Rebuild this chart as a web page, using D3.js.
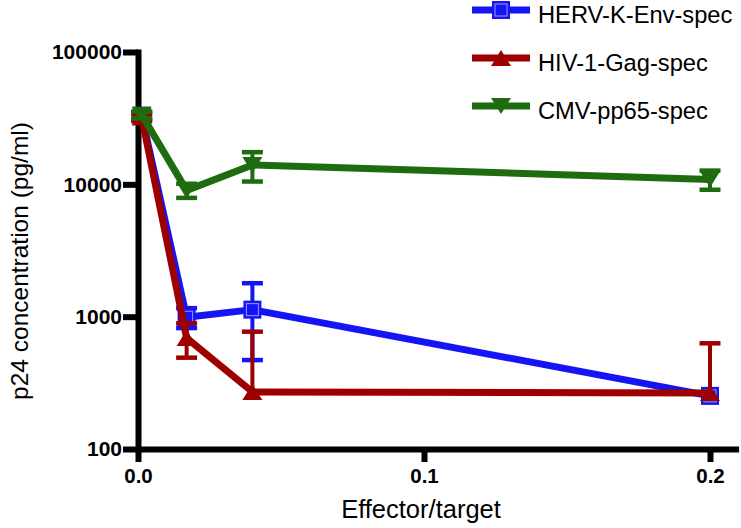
<!DOCTYPE html>
<html>
<head>
<meta charset="utf-8">
<script src="https://cdn.jsdelivr.net/npm/d3@7"></script>
<style>
  html, body { margin: 0; padding: 0; background: #fff; }
  svg { display: block; }
  text { font-family: "Liberation Sans", Arial, Helvetica, sans-serif; }
</style>
</head>
<body>
<svg id="chart" width="741" height="528"></svg>
<script>
// ---- data ----
const xValues = [0.0013, 0.017, 0.04, 0.2];
const seriesNames = ["HERV-K-Env-spec", "HIV-1-Gag-spec", "CMV-pp65-spec"];
const hervMean = [33000, 990, 1130, 252];
const hervErr  = [2000, 170, 660, 0];
const hivMean  = [32000, 690, 270, 265];
const hivErr   = [2000, 200, 500, 364];
const cmvMean  = [33500, 9000, 14000, 10900];
const cmvErr   = [2000, 1100, 3500, 1800];
const yTicks = [100, 1000, 10000, 100000];
const xTicks = [0, 0.1, 0.2];
const xTitle = "Effector/target";
const yTitle = "p24 concentration (pg/ml)";

const colors = ["#1414f5", "#9e0000", "#1f6b0f"];
const markers = ["square", "triangleUp", "triangleDown"];

const series = [
  {name: seriesNames[0], mean: hervMean, err: hervErr, color: colors[0], marker: markers[0]},
  {name: seriesNames[1], mean: hivMean,  err: hivErr,  color: colors[1], marker: markers[1]},
  {name: seriesNames[2], mean: cmvMean,  err: cmvErr,  color: colors[2], marker: markers[2]}
];

const svg = d3.select("#chart");

const x = d3.scaleLinear().domain([0, 0.21]).range([138, 738.6]);
const y = d3.scaleLog().domain([100, 100000]).range([449, 52]);

// ---- axes ----
const yAxis = d3.axisLeft(y).tickValues(yTicks).tickFormat(d3.format("d"))
  .tickSize(15).tickSizeOuter(0).tickPadding(1);
const gy = svg.append("g").attr("transform", "translate(138,0)").call(yAxis);
gy.select(".domain").attr("stroke", "#000").attr("stroke-width", 6).attr("stroke-linecap", "square");
gy.selectAll(".tick line").attr("stroke", "#000").attr("stroke-width", 6);
gy.selectAll(".tick text").attr("font-size", 21).attr("font-weight", "bold").attr("fill", "#000")
  .attr("font-family", "'Liberation Sans', Arial, sans-serif");

const xAxis = d3.axisBottom(x).tickValues(xTicks).tickFormat(d3.format(".1f"))
  .tickSize(13).tickSizeOuter(0).tickPadding(6);
const gx = svg.append("g").attr("transform", "translate(0,449)").call(xAxis);
gx.select(".domain").attr("stroke", "#000").attr("stroke-width", 6);
gx.selectAll(".tick line").attr("stroke", "#000").attr("stroke-width", 6);
gx.selectAll(".tick text").attr("font-size", 20.5).attr("font-weight", "bold").attr("fill", "#000")
  .attr("font-family", "'Liberation Sans', Arial, sans-serif");

// ---- titles ----
svg.append("text").attr("x", 421).attr("y", 518).attr("text-anchor", "middle")
  .attr("font-size", 25.5).attr("fill", "#000").text(xTitle);
svg.append("text").attr("transform", "translate(28,261) rotate(-90)").attr("text-anchor", "middle")
  .attr("font-size", 24.5).attr("fill", "#000").text(yTitle);

// ---- marker drawing ----
function drawMarker(g, type, cx, cy, color) {
  if (type === "square") {
    g.append("rect").attr("x", cx - 9).attr("y", cy - 9).attr("width", 18).attr("height", 18)
      .attr("fill", color);
    g.append("rect").attr("x", cx - 6).attr("y", cy - 6).attr("width", 12).attr("height", 12)
      .attr("fill", "none").attr("stroke", "#9a9aff").attr("stroke-width", 1);
  } else if (type === "triangleUp") {
    g.append("path").attr("d", `M${cx},${cy - 8} L${cx + 10},${cy + 8} L${cx - 10},${cy + 8} Z`)
      .attr("fill", color);
  } else {
    g.append("path").attr("d", `M${cx - 10},${cy - 8} L${cx + 10},${cy - 8} L${cx},${cy + 8} Z`)
      .attr("fill", color);
  }
}

const line = d3.line().x(d => x(d.x)).y(d => y(d.v));
const ymin = y.domain()[0];

series.forEach(s => {
  const g = svg.append("g");
  const pts = xValues.map((xv, i) => ({x: xv, v: s.mean[i], e: s.err[i]}));
  // error bars
  pts.forEach(p => {
    if (!p.e) return;
    const cx = x(p.x);
    const hi = p.v + p.e;
    const lo = p.v - p.e;
    const yHi = y(hi);
    const yLo = lo > ymin ? y(lo) : y(p.v);
    g.append("line").attr("x1", cx).attr("x2", cx).attr("y1", yHi).attr("y2", yLo)
      .attr("stroke", s.color).attr("stroke-width", 4);
    g.append("line").attr("x1", cx - 10.5).attr("x2", cx + 10.5).attr("y1", yHi).attr("y2", yHi)
      .attr("stroke", s.color).attr("stroke-width", 4.5);
    if (lo > ymin) {
      g.append("line").attr("x1", cx - 10.5).attr("x2", cx + 10.5).attr("y1", yLo).attr("y2", yLo)
        .attr("stroke", s.color).attr("stroke-width", 4.5);
    }
  });
  g.append("path").datum(pts).attr("d", line).attr("fill", "none")
    .attr("stroke", s.color).attr("stroke-width", 7).attr("stroke-linejoin", "round");
  pts.forEach(p => drawMarker(g, s.marker, x(p.x), y(p.v), s.color));
});

// ---- legend ----
const legendY = [10, 58, 106];
series.forEach((s, i) => {
  const g = svg.append("g");
  const ly = legendY[i];
  g.append("line").attr("x1", 472).attr("x2", 530).attr("y1", ly).attr("y2", ly)
    .attr("stroke", s.color).attr("stroke-width", 7);
  drawMarker(g, s.marker, 501, ly, s.color);
  g.append("text").attr("x", 538).attr("y", ly + 12.5).attr("font-size", 23.7).attr("fill", "#000").text(s.name);
});
</script>
</body>
</html>
